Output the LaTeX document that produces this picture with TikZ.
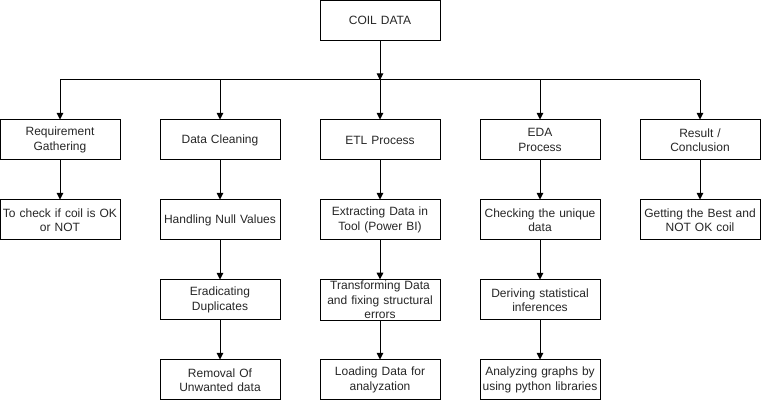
\documentclass[tikz,border=0pt]{standalone}
\usepackage{fontspec}
\setmainfont{Liberation Sans}
\usetikzlibrary{arrows.meta}
\begin{document}
\begin{tikzpicture}[x=0.75pt,y=-0.75pt,
  box/.style={draw=black, line width=0.75pt, minimum width=90pt, minimum height=30pt, inner sep=1pt, align=center, text width=88pt, font=\fontsize{9}{10.8}\selectfont, text=black!85},
  conn/.style={draw=black, line width=0.75pt, -{Triangle[length=5pt,width=5pt]}}]
\useasboundingbox (0,0) rectangle (761,402);
\node[box] (coil) at (380,20.5) {COIL DATA};
\coordinate (j) at (380,80);
\node[box] (r1) at (60,140) {Requirement\\Gathering};
\node[box] (c1) at (220,140) {Data Cleaning};
\node[box] (e1) at (380,140) {ETL Process};
\node[box] (d1) at (540,140) {EDA\\Process};
\node[box] (s1) at (700,140) {Result /\\Conclusion};
\node[box] (r2) at (60,220) {To check if coil is OK\\or NOT};
\node[box] (c2) at (220,220) {Handling Null Values};
\node[box] (e2) at (380,220) {Extracting Data in\\Tool (Power BI)};
\node[box] (d2) at (540,220) {Checking the unique\\data};
\node[box] (s2) at (700,220) {Getting the Best and\\NOT OK coil};
\node[box] (c3) at (220,300) {Eradicating\\Duplicates};
\node[box] (e3) at (380,300) {Transforming Data\\and fixing structural\\errors};
\node[box] (d3) at (540,300) {Deriving statistical\\inferences};
\node[box] (c4) at (220,380) {Removal Of\\Unwanted data};
\node[box] (e4) at (380,380) {Loading Data for\\analyzation};
\node[box] (d4) at (540,380) {Analyzing graphs by\\using python libraries};
\draw[conn] (coil) -- (j);
\draw[line width=0.75pt] (r1.north |- j) -- (s1.north |- j);
\foreach \n in {r1,c1,e1,d1,s1} \draw[conn] (j -| \n.north) -- (\n);
\draw[conn] (r1) -- (r2);
\draw[conn] (c1) -- (c2);
\draw[conn] (c2) -- (c3);
\draw[conn] (c3) -- (c4);
\draw[conn] (e1) -- (e2);
\draw[conn] (e2) -- (e3);
\draw[conn] (e3) -- (e4);
\draw[conn] (d1) -- (d2);
\draw[conn] (d2) -- (d3);
\draw[conn] (d3) -- (d4);
\draw[conn] (s1) -- (s2);
\end{tikzpicture}
\end{document}
